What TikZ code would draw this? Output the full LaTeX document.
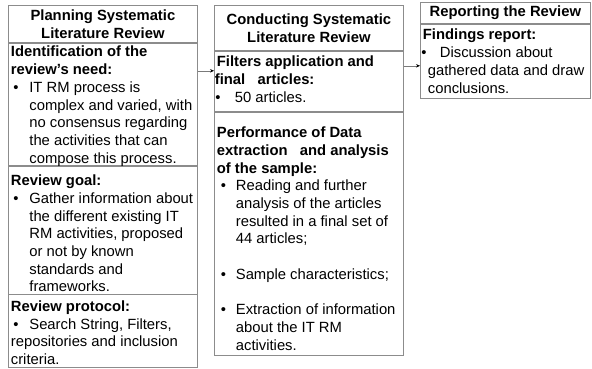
\documentclass[tikz,border=0pt]{standalone}
\usepackage{fontspec}
\setmainfont{Liberation Sans}
\usetikzlibrary{arrows.meta, positioning}
\definecolor{boxGray}{HTML}{8C8C8C}
\definecolor{arrGray}{HTML}{7A7A7A}

\newcommand{\ttltxt}[3]{\parbox[c][#2][c]{#1}{\centering\bfseries #3}}
\newcommand{\sectxt}[4]{\parbox[c][#2][t]{#1}{\raggedright\vspace*{#3}#4}}
\newcommand{\hdr}[1]{\noindent{\bfseries #1}\par}
\newcommand{\bul}[4]{\par\hangindent=#3\hangafter=1\noindent\makebox[#2][l]{\hspace*{#1}\textbullet}#4\par}

\begin{document}
\begin{tikzpicture}[x=1pt, y=-1pt,
    sec/.style={draw=boxGray, line width=0.8pt, inner xsep=2.5pt, inner ysep=0pt,
                font=\fontsize{14.8}{17.7}\selectfont},
    arr/.style={-{Stealth[length=4pt, width=3.5pt, black]}, arrGray, line width=0.6pt}
]
  \useasboundingbox (0,0) rectangle (592,368);
  \node[sec, anchor=north west] (plantitle) at (8,5) {\ttltxt{184pt}{37pt}{Planning Systematic\\ Literature Review}};
  \node[sec, below=0pt of plantitle] (planneed) {\sectxt{184pt}{122pt}{3pt}{%
    \hdr{Identification of the\\ review’s need:}
    \bul{2.5pt}{18.5pt}{18.5pt}{IT RM process is\newline complex and varied, with\newline no consensus regarding\newline the activities that can\newline compose this process.}}};
  \node[sec, below=0pt of planneed] (plangoal) {\sectxt{184pt}{128pt}{9pt}{%
    \hdr{Review goal:}
    \bul{2.5pt}{18.5pt}{18.5pt}{Gather information about\newline the different existing IT\newline RM activities, proposed\newline or not by known\newline standards and\newline frameworks.}}};
  \node[sec, below=0pt of plangoal] (planprot) {\sectxt{184pt}{73pt}{6pt}{%
    \hdr{Review protocol:}
    \bul{2.5pt}{18.5pt}{0pt}{Search String, Filters,\newline repositories and inclusion\newline criteria.}}};

  \node[sec, anchor=north west] (condtitle) at (214,5) {\ttltxt{184pt}{45pt}{Conducting Systematic\\ Literature Review}};
  \node[sec, below=0pt of condtitle] (condfilter) {\sectxt{184pt}{60pt}{5pt}{%
    \hdr{Filters application and\\ \hspace*{-2pt}final\ \ \ articles:}
    \bul{-1.5pt}{18pt}{18pt}{50 articles.}}};
  \node[sec, below=0pt of condfilter] (condperf) {\sectxt{184pt}{243pt}{15pt}{%
    \hdr{Performance of Data\\ extraction\ \ \ and analysis\\ of the sample:}
    \bul{4pt}{19pt}{19pt}{Reading and further\newline analysis of the articles\newline resulted in a final set of\newline 44 articles;}
    \vspace{\baselineskip}
    \bul{4pt}{19pt}{19pt}{Sample characteristics;}
    \vspace{\baselineskip}
    \bul{4pt}{19pt}{19pt}{Extraction of information\newline about the IT RM\newline activities.}}};

  \node[sec, anchor=north west] (reptitle) at (420,2) {\ttltxt{165pt}{21pt}{Reporting the Review}};
  \node[sec, below=0pt of reptitle] (repfind) {\sectxt{165pt}{74pt}{5pt}{%
    \hdr{Findings report:}
    \bul{-1.5pt}{17pt}{5pt}{Discussion about\newline gathered data and draw\newline conclusions.}}};

  \coordinate (a1) at ([yshift=-28pt]planneed.north east);
  \coordinate (a2) at ([yshift=-15pt]condfilter.north east);
  \draw[arr] (a1) -- (a1 -| condfilter.west);
  \draw[arr] (a2) -- (a2 -| repfind.west);
\end{tikzpicture}
\end{document}
